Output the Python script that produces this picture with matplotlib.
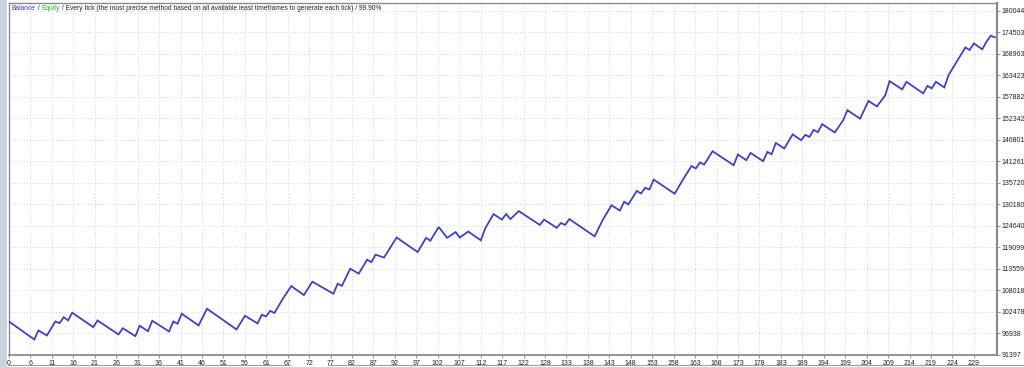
import matplotlib
matplotlib.use('Agg')
import matplotlib.pyplot as plt
from matplotlib.patches import Rectangle
from matplotlib.lines import Line2D

# balance curve vertices (trade number, balance)
trades = [0, 6, 7, 9, 11, 12, 13, 14, 15, 20,
          21, 26, 27, 30, 31, 33, 34, 38, 39, 40,
          41, 45, 47, 54, 56, 59, 60, 61, 62, 63,
          65, 67, 70, 72, 77, 78, 79, 81, 83, 85,
          86, 87, 89, 92, 97, 99, 100, 102, 104, 106,
          107, 109, 112, 113, 115, 117, 118, 119, 121, 126,
          127, 130, 131, 132, 133, 139, 141, 143, 145, 146,
          147, 149, 150, 151, 152, 153, 158, 160, 162, 163,
          164, 165, 167, 172, 173, 175, 176, 179, 180, 181,
          182, 184, 186, 188, 189, 190, 191, 192, 193, 196,
          198, 199, 202, 204, 206, 208, 209, 212, 213, 217,
          218, 219, 220, 222, 223, 227, 228, 229, 231, 232,
          233, 234]
balance = [100000, 95390, 97710, 96420, 100030, 99590, 101140, 100290, 102270, 98560,
           100290, 96680, 98300, 96240, 98920, 97530, 100210, 97450, 100030, 99440,
           102010, 99000, 103300, 97970, 101500, 99520, 101760, 101320, 102740, 102220,
           105880, 109130, 106810, 110260, 107170, 109750, 109180, 113610, 112320, 115930,
           115290, 117220, 116470, 121630, 117890, 121550, 120800, 124330, 121550, 123040,
           121630, 123170, 120900, 123920, 127660, 126240, 127680, 126370, 128430, 124870,
           126240, 124130, 125360, 124870, 126370, 121930, 126320, 129920, 128560, 130830,
           130130, 133610, 132960, 134430, 133970, 136550, 132890, 136620, 140050, 139380,
           140950, 140410, 143840, 140230, 142990, 141520, 143400, 141260, 143660, 143070,
           145980, 144540, 148170, 146670, 148040, 147520, 149330, 148740, 150800, 148660,
           151830, 154400, 152210, 156780, 155360, 158270, 161880, 159740, 161700, 158710,
           160670, 160000, 161700, 160250, 163420, 170560, 169870, 171590, 170050, 172010,
           173550, 173140]

x_labels = ['0', '6', '11', '16', '21', '26', '31', '36', '41', '46', '51', '56', '61',
            '67', '72', '77', '82', '87', '92', '97', '102', '107', '112', '117', '122',
            '128', '133', '138', '143', '148', '153', '158', '163', '168', '173', '178',
            '183', '189', '194', '199', '204', '209', '214', '219', '224', '229']
y_ticks = [180044, 174503, 168963, 163423, 157882, 152342, 146801, 141261, 135720,
           130180, 124640, 119099, 113559, 108018, 102478, 96938, 91397]

font = 'Liberation Sans'
fs = 5

fig = plt.figure(figsize=(10.24, 3.67), dpi=100)
fig.patch.set_facecolor('white')

# left side strip and bottom tab line of the terminal window
fig.patches.append(Rectangle((0, 0), 7 / 1024, 1, transform=fig.transFigure,
                             facecolor='#c9d3de', edgecolor='none', zorder=0))
fig.lines.append(Line2D([8 / 1024, 290 / 1024], [2.5 / 367, 2.5 / 367],
                        transform=fig.transFigure, color='#a0a0a0', lw=0.8))
fig.lines.append(Line2D([328 / 1024, 1], [2.5 / 367, 2.5 / 367],
                        transform=fig.transFigure, color='#a0a0a0', lw=0.8))

ax = fig.add_axes([9 / 1024, 12 / 367, 988 / 1024, 352 / 367])
ax.set_facecolor('white')

ax.plot(trades, balance, color='#3a3ad0', lw=1.25, solid_joinstyle='miter', zorder=3)

step = 229 / 45
xt = [i * step for i in range(len(x_labels))]
ax.set_xticks(xt)
ax.set_xticklabels(x_labels, fontsize=fs, family=font, color='#222222')
ax.set_yticks(y_ticks)
ax.set_yticklabels([str(v) for v in y_ticks], fontsize=fs, family=font, color='#222222')
ax.yaxis.tick_right()

ax.set_xlim(0, 234.5)
ax.set_ylim(91397, 181980)

ax.grid(True, color='#d4d4d4', lw=0.7, linestyle=(0, (1, 2)))
ax.tick_params(axis='both', length=2, width=0.6, color='#808080', pad=1.5)
for s in ax.spines.values():
    s.set_color('#8a8a8a')
    s.set_linewidth(1.0)
ax.spines['right'].set_linewidth(1.6)
ax.spines['bottom'].set_linewidth(1.3)

tfs = 4.8
t1 = ax.text(0.003, 0.983, 'Balance', transform=ax.transAxes, fontsize=tfs,
             family=font, color='#3333cc', va='center', ha='left')
t2 = ax.annotate(' / ', xy=(1, 0), xycoords=t1, va='bottom', fontsize=tfs,
                 family=font, color='#222222')
t3 = ax.annotate('Equity', xy=(1, 0), xycoords=t2, va='bottom', fontsize=tfs,
                 family=font, color='#22bb22')
ax.annotate(' / Every tick (the most precise method based on all available least '
            'timeframes to generate each tick) / 99.90%', xy=(1, 0), xycoords=t3,
            va='bottom', fontsize=tfs, family=font, color='#222222')

fig.savefig('out.png', dpi=100, facecolor='white')
